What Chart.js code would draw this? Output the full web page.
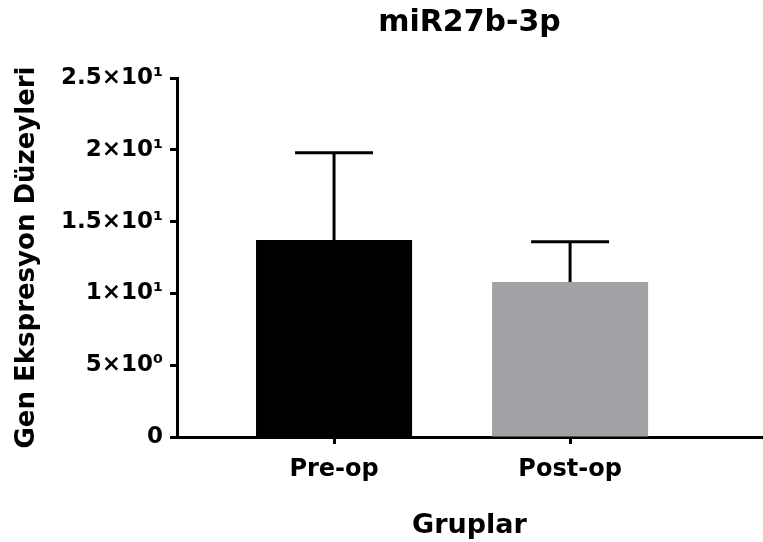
<!DOCTYPE html>
<html>
<head>
<meta charset="utf-8">
<script src="https://cdn.jsdelivr.net/npm/chart.js"></script>
<style>
  body { margin: 0; background: #fff; }
  #wrap { width: 763px; height: 542px; }
</style>
</head>
<body>
<div id="wrap"><canvas id="graf" width="763" height="542"></canvas></div>
<script>
// data
var groups = ['Pre-op', 'Post-op'];
var xPositions = [1, 2];
var means = [13.72, 10.8];
var errUpper = [6.08, 2.8];
var barColors = ['#000000', '#a2a1a5'];
var yTickValues = [0, 5, 10, 15, 20, 25];
var yTickLabels = ['0', '5×10⁰', '1×10¹', '1.5×10¹', '2×10¹', '2.5×10¹'];

var FONT = "'DejaVu Sans', 'Liberation Sans', Arial, sans-serif";

// only the upper half of the SD bar, like Prism draws it
var errorBars = {
	id: 'errorBars',
	afterDatasetsDraw: function(chart) {
		var ctx = chart.ctx;
		var xs = chart.scales.x, ys = chart.scales.y;
		var capHalf = 39;
		ctx.save();
		ctx.strokeStyle = '#000';
		ctx.lineWidth = 3;
		for (var i = 0; i < means.length; i++) {
			var x = xs.getPixelForValue(xPositions[i]);
			var y0 = ys.getPixelForValue(means[i]);
			var y1 = ys.getPixelForValue(means[i] + errUpper[i]);
			ctx.beginPath();
			ctx.moveTo(x, y0);
			ctx.lineTo(x, y1);
			ctx.moveTo(x - capHalf, y1);
			ctx.lineTo(x + capHalf, y1);
			ctx.stroke();
		}
		ctx.restore();
	}
};

var chartdata = {
	datasets: [{
		label: 'miR27b-3p',
		data: groups.map(function(g, i) { return { x: xPositions[i], y: means[i] }; }),
		backgroundColor: barColors,
		borderWidth: 0,
		barPercentage: 1,
		categoryPercentage: 0.661
	}]
};

var ctx = document.getElementById('graf');
var barGraph = new Chart(ctx, {
	type: 'bar',
	data: chartdata,
	plugins: [errorBars],
	options: {
		responsive: false,
		animation: false,
		layout: { padding: { left: 0, right: 1, top: 0, bottom: 0 } },
		plugins: {
			legend: { display: false },
			tooltip: { enabled: false },
			title: {
				display: true,
				text: 'miR27b-3p',
				color: '#000',
				fullSize: false,
				font: { family: FONT, size: 30, weight: 'bold' },
				padding: { top: 5, bottom: 37 }
			}
		},
		scales: {
			x: {
				type: 'linear',
				min: 0.3347,
				max: 2.813,
				offset: false,
				afterBuildTicks: function(axis) {
					axis.ticks = xPositions.map(function(v) { return { value: v }; });
				},
				afterFit: function(axis) { axis.height = 105; },
				grid: { display: true, drawOnChartArea: false, offset: false, color: '#000', tickColor: '#000', tickWidth: 3, tickLength: 7 },
				border: { display: true, color: '#000', width: 3 },
				ticks: {
					color: '#000',
					padding: 11,
					maxRotation: 0,
					font: { family: FONT, size: 24, weight: 'bold' },
					callback: function(v, i) { return groups[i]; }
				},
				title: {
					display: true,
					text: 'Gruplar',
					color: '#000',
					font: { family: FONT, size: 27, weight: 'bold' },
					padding: { top: 8, bottom: 0 }
				}
			},
			y: {
				min: 0,
				max: 25,
				afterBuildTicks: function(axis) {
					axis.ticks = yTickValues.map(function(v) { return { value: v }; });
				},
				afterFit: function(axis) { axis.width = 177; },
				grid: { display: true, drawOnChartArea: false, color: '#000', tickColor: '#000', tickWidth: 3, tickLength: 7 },
				border: { display: true, color: '#000', width: 3 },
				ticks: {
					color: '#000',
					padding: 7,
					font: { family: FONT, size: 23, weight: 'bold' },
					callback: function(v, i) { return yTickLabels[i]; }
				},
				title: {
					display: true,
					text: 'Gen Ekspresyon Düzeyleri',
					color: '#000',
					font: { family: FONT, size: 26, weight: 'bold' },
					padding: { top: 12, bottom: 0 }
				}
			}
		}
	}
});
</script>
</body>
</html>
